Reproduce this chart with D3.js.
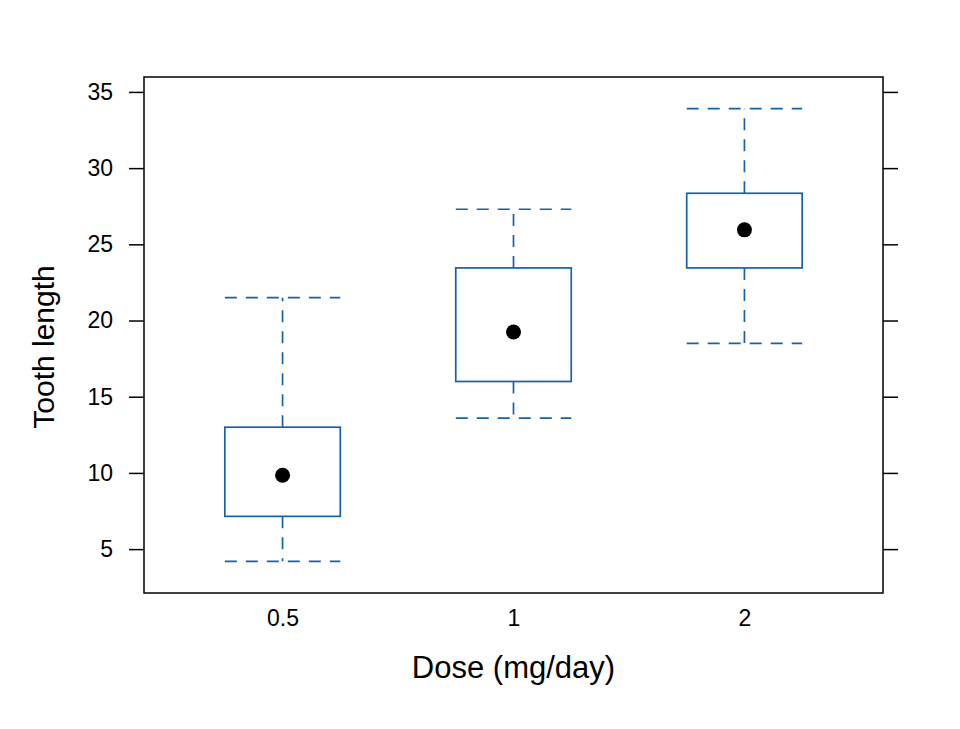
<!DOCTYPE html>
<html>
<head>
<meta charset="utf-8">
<script src="https://cdn.jsdelivr.net/npm/d3@7"></script>
<style>
  body { margin: 0; background: #fff; }
  svg text { font-family: "Liberation Sans", Arial, sans-serif; fill: #000; }
</style>
</head>
<body>
<div id="canvas"></div>
<script>
// box stats per dose (ToothGrowth, hinges as in the plot)
const doses = ["0.5", "1", "2"];
const lowWhisker = [4.2, 13.6, 18.5];
const lowerHinge = [7.15, 16.0, 23.45];
const medians = [9.85, 19.25, 25.95];
const upperHinge = [13.0, 23.45, 28.35];
const highWhisker = [21.5, 27.3, 33.9];
const yTicks = [5, 10, 15, 20, 25, 30, 35];

const width = 960;
const height = 729;
const margin = { top: 77, left: 144, bottom: 136, right: 77 };
const iwidth = width - margin.left - margin.right;
const iheight = height - margin.top - margin.bottom;

const blue = "#1761A8";

const svg = d3.select("#canvas").append("svg")
  .attr("width", width)
  .attr("height", height);

const g = svg.append("g")
  .attr("transform", `translate(${margin.left}, ${margin.top})`);

const x = d3.scalePoint().domain(doses).range([0, iwidth]).padding(0.6);
const y = d3.scaleLinear().domain([2.121, 35.979]).range([iheight, 0]);

const half = x.step() * 0.25;

const data = doses.map((d, i) => ({
  dose: d,
  lo: lowWhisker[i], q1: lowerHinge[i], med: medians[i],
  q3: upperHinge[i], hi: highWhisker[i]
}));

const boxes = g.selectAll(".box").data(data).enter().append("g").attr("class", "box");

const dashed = (sel) => sel.attr("stroke", blue).attr("stroke-width", 1.7).attr("stroke-dasharray", "12,9");

// whiskers
boxes.append("line")
  .attr("x1", (d) => x(d.dose)).attr("x2", (d) => x(d.dose))
  .attr("y1", (d) => y(d.q3)).attr("y2", (d) => y(d.hi))
  .call(dashed);
boxes.append("line")
  .attr("x1", (d) => x(d.dose)).attr("x2", (d) => x(d.dose))
  .attr("y1", (d) => y(d.q1)).attr("y2", (d) => y(d.lo))
  .call(dashed);
// caps
boxes.append("line")
  .attr("x1", (d) => x(d.dose) - half).attr("x2", (d) => x(d.dose) + half)
  .attr("y1", (d) => y(d.hi)).attr("y2", (d) => y(d.hi))
  .call(dashed);
boxes.append("line")
  .attr("x1", (d) => x(d.dose) - half).attr("x2", (d) => x(d.dose) + half)
  .attr("y1", (d) => y(d.lo)).attr("y2", (d) => y(d.lo))
  .call(dashed);
// box
boxes.append("rect")
  .attr("x", (d) => x(d.dose) - half)
  .attr("y", (d) => y(d.q3))
  .attr("width", half * 2)
  .attr("height", (d) => y(d.q1) - y(d.q3))
  .attr("fill", "none").attr("stroke", blue).attr("stroke-width", 1.7);
// median dot
boxes.append("circle")
  .attr("cx", (d) => x(d.dose)).attr("cy", (d) => y(d.med))
  .attr("r", 7.5).attr("fill", "#000");

// axes
const left = g.append("g").call(d3.axisLeft(y).tickValues(yTicks).tickSize(15).tickPadding(16));
const right = g.append("g").attr("transform", `translate(${iwidth}, 0)`)
  .call(d3.axisRight(y).tickValues(yTicks).tickSize(15).tickFormat(""));
const bottom = g.append("g").attr("transform", `translate(0, ${iheight})`)
  .call(d3.axisBottom(x).tickSize(0).tickPadding(17));

[left, right, bottom].forEach((a) => {
  a.select(".domain").remove();
  a.selectAll("line").attr("stroke", "#000").attr("stroke-width", 1.5);
  a.attr("font-size", 23).attr("font-family", "Liberation Sans, Arial, sans-serif");
});

g.append("rect")
  .attr("width", iwidth).attr("height", iheight)
  .attr("fill", "none").attr("stroke", "#000").attr("stroke-width", 1.5);

// titles
svg.append("text")
  .attr("x", margin.left + iwidth / 2).attr("y", 678)
  .attr("text-anchor", "middle").style("font-size", "31px")
  .text("Dose (mg/day)");

svg.append("text")
  .attr("transform", `translate(54, 347) rotate(-90)`)
  .attr("text-anchor", "middle").style("font-size", "30px")
  .text("Tooth length");
</script>
</body>
</html>
